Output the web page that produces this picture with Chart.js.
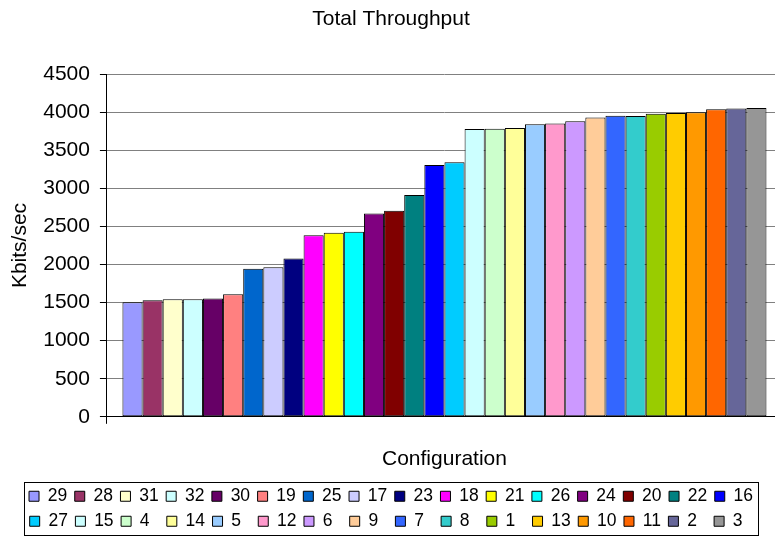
<!DOCTYPE html>
<html>
<head>
<meta charset="utf-8">
<script src="https://cdn.jsdelivr.net/npm/chart.js@4"></script>
<style>
    html, body { margin: 0; padding: 0; background: #fff; overflow: hidden; }
    #wrap { width: 786px; height: 540px; }
</style>
</head>
<body>
<div id="wrap"><canvas id="chart" width="786" height="540"></canvas></div>
<script>
// series names, in the order the bars are drawn
const seriesNames = ['29', '28', '31', '32', '30', '19', '25', '17', '23', '18', '21', '26', '24', '20', '22', '16',
                     '27', '15', '4', '14', '5', '12', '6', '9', '7', '8', '1', '13', '10', '11', '2', '3'];
// throughput per configuration (Kbits/sec)
const throughput = [1505, 1530, 1545, 1545, 1553, 1610, 1943, 1965, 2079, 2386, 2417, 2430, 2671, 2706, 2912, 3307,
                    3342, 3781, 3785, 3794, 3842, 3851, 3882, 3930, 3955, 3950, 3982, 3991, 4000, 4039, 4048, 4057];
const barColors = ['#9999FF', '#993366', '#FFFFCC', '#CCFFFF', '#660066', '#FF8080', '#0066CC', '#CCCCFF',
                   '#000080', '#FF00FF', '#FFFF00', '#00FFFF', '#800080', '#800000', '#008080', '#0000FF',
                   '#00CCFF', '#CCFFFF', '#CCFFCC', '#FFFF99', '#99CCFF', '#FF99CC', '#CC99FF', '#FFCC99',
                   '#3366FF', '#33CCCC', '#99CC00', '#FFCC00', '#FF9900', '#FF6600', '#666699', '#969696'];
const categories = [''];
const yTicks = { min: 0, max: 4500, step: 500 };

const FONT = "'Liberation Sans', Arial, Helvetica, sans-serif";

// 범례 테두리
const legendBorder = {
    id: 'legendBorder',
    afterDraw(chart) {
        const boxes = chart.legend && chart.legend.legendHitBoxes;
        if (!boxes || !boxes.length) return;
        let l = Infinity, r = -Infinity, t = Infinity, b = -Infinity;
        boxes.forEach(h => {
            l = Math.min(l, h.left); r = Math.max(r, h.left + h.width);
            t = Math.min(t, h.top); b = Math.max(b, h.top + h.height);
        });
        const ctx = chart.ctx;
        ctx.save();
        ctx.strokeStyle = '#000';
        ctx.lineWidth = 1;
        ctx.strokeRect(Math.round(l - 5) + 0.5, Math.round(t - 6) + 0.5, Math.round(r - l + 10), Math.round(b - t + 10));
        ctx.restore();
    }
};

const datasets = seriesNames.map((name, i) => ({
    // pad single digits so legend columns line up
    label: name.length < 2 ? name + '\u2007' : name,
    data: [throughput[i]],
    backgroundColor: barColors[i],
    borderColor: '#000',
    borderWidth: 1,
    borderSkipped: false,
    categoryPercentage: 0.954,
    barPercentage: 1.0
}));

new Chart(document.getElementById('chart'), {
    type: 'bar',
    data: { labels: categories, datasets: datasets },
    options: {
        responsive: false,
        animation: false,
        layout: { padding: { left: 0, right: 4, top: 0, bottom: 0 } },
        plugins: {
            title: {
                display: true,
                text: 'Total Throughput',
                color: '#000',
                font: { family: FONT, size: 21, weight: 'normal' },
                padding: { top: 7, bottom: 42 }
            },
            legend: {
                position: 'bottom',
                labels: {
                    color: '#000',
                    font: { family: FONT, size: 17.5 },
                    boxWidth: 10,
                    boxHeight: 10,
                    padding: 7.5
                }
            },
            tooltip: { enabled: false }
        },
        scales: {
            x: {
                offset: true,
                ticks: { display: false },
                grid: { offset: true, drawOnChartArea: false, drawTicks: true, tickLength: 7, color: '#000', tickColor: '#000' },
                border: { display: true, color: '#000', width: 1 },
                title: {
                    display: true,
                    text: 'Configuration',
                    color: '#000',
                    font: { family: FONT, size: 21 },
                    padding: { top: 23, bottom: 8 }
                }
            },
            y: {
                min: yTicks.min,
                max: yTicks.max,
                ticks: {
                    stepSize: yTicks.step,
                    color: '#000',
                    padding: 10,
                    font: { family: FONT, size: 21 },
                    callback: v => String(v)
                },
                grid: { color: '#808080', tickColor: '#000', tickLength: 7, lineWidth: 1 },
                border: { display: true, color: '#000', width: 1 },
                title: {
                    display: true,
                    text: 'Kbits/sec',
                    color: '#000',
                    font: { family: FONT, size: 21 },
                    padding: { top: 8, bottom: 0 }
                }
            }
        }
    },
    plugins: [legendBorder]
});
</script>
</body>
</html>
